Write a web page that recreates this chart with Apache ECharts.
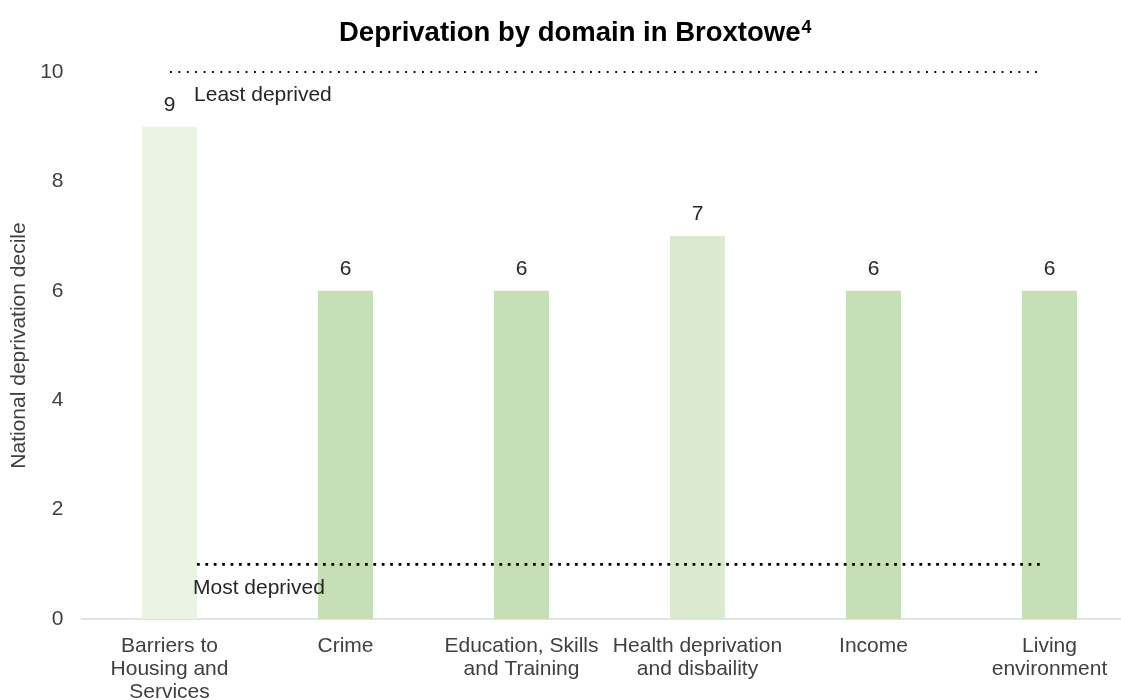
<!DOCTYPE html>
<html>
<head>
<meta charset="utf-8">
<script src="https://cdn.jsdelivr.net/npm/echarts@6/dist/echarts.min.js"></script>
<style>
  html, body { margin: 0; padding: 0; background: #ffffff; }
  #chart { width: 1121px; height: 700px; }
</style>
</head>
<body>
<div id="chart"></div>
<script>
// Domains and national deprivation decile for each
const domains = [
  'Barriers to\nHousing and\nServices',
  'Crime',
  'Education, Skills\nand Training',
  'Health deprivation\nand disbaility',
  'Income',
  'Living\nenvironment'
];
const deciles = [9, 6, 6, 7, 6, 6];
const barColors = ['#ebf3e2', '#c6dfb5', '#c6dfb5', '#dce9d1', '#c6dfb5', '#c6dfb5'];

// Reference levels
const refValues = [10, 1];
const refLabels = ['Least deprived', 'Most deprived'];
const yTicks = [0, 2, 4, 6, 8, 10];

const chart = echarts.init(document.getElementById('chart'), null, { renderer: 'canvas' });

const font = 'Liberation Sans, Arial, sans-serif';

const option = {
  animation: false,
  title: {
    text: '{m|Deprivation by domain in Broxtowe}{s|4}',
    left: 334,
    top: 14,
    textStyle: {
      rich: {
        m: { fontFamily: font, fontSize: 27.5, fontWeight: 'bold', color: '#000000' },
        s: { fontFamily: font, fontSize: 18, color: '#000000', verticalAlign: 'top', padding: [0, 0, 10, 1] }
      }
    }
  },
  grid: {
    left: 81.5, right: -16.5, top: 72, bottom: 81,
    containLabel: false,
    outerBoundsMode: 'none'
  },
  xAxis: [
    {
      type: 'category',
      data: domains,
      axisTick: { show: false },
      axisLine: { lineStyle: { color: '#d9d9d9', width: 1.5 } },
      axisLabel: {
        interval: 0,
        margin: 16,
        fontFamily: font,
        fontSize: 21,
        lineHeight: 23,
        color: '#404040'
      }
    },
    { type: 'value', min: 0, max: 6, show: false, position: 'top' }
  ],
  yAxis: {
    type: 'value',
    min: 0,
    max: 10,
    interval: 2,
    name: 'National deprivation decile',
    nameLocation: 'middle',
    nameGap: 52,
    nameTextStyle: { fontFamily: font, fontSize: 21, color: '#404040' },
    axisLine: { show: false },
    axisTick: { show: false },
    splitLine: { show: false },
    axisLabel: {
      margin: 18,
      fontFamily: font,
      fontSize: 21,
      color: '#404040',
      formatter: v => (yTicks.indexOf(v) >= 0 ? String(v) : '')
    }
  },
  series: [
    {
      type: 'bar',
      xAxisIndex: 0,
      barWidth: 55,
      data: deciles.map((v, i) => ({ value: v, itemStyle: { color: barColors[i] } })),
      label: {
        show: true,
        position: 'top',
        distance: 11,
        fontFamily: font,
        fontSize: 21,
        color: '#262626'
      }
    },
    {
      type: 'line',
      xAxisIndex: 1,
      symbol: 'circle',
      symbolSize: 0,
      silent: true,
      lineStyle: { color: '#000000', width: 1.8, type: [1.8, 6.6] },
      data: [
        {
          value: [0.503, refValues[0]],
          label: {
            show: true,
            formatter: refLabels[0],
            position: [24, 23],
            align: 'left',
            verticalAlign: 'middle',
            fontFamily: font,
            fontSize: 21,
            color: '#262626'
          }
        },
        [5.463, refValues[0]]
      ]
    },
    {
      type: 'line',
      xAxisIndex: 1,
      symbol: 'circle',
      symbolSize: 0,
      silent: true,
      lineStyle: { color: '#000000', width: 2.8, type: [2.8, 5.6] },
      data: [
        {
          value: [0.656, refValues[1]],
          label: {
            show: true,
            formatter: refLabels[1],
            position: [-4, 24],
            align: 'left',
            verticalAlign: 'middle',
            fontFamily: font,
            fontSize: 21,
            color: '#262626'
          }
        },
        [5.463, refValues[1]]
      ]
    }
  ]
};

chart.setOption(option);
</script>
</body>
</html>
